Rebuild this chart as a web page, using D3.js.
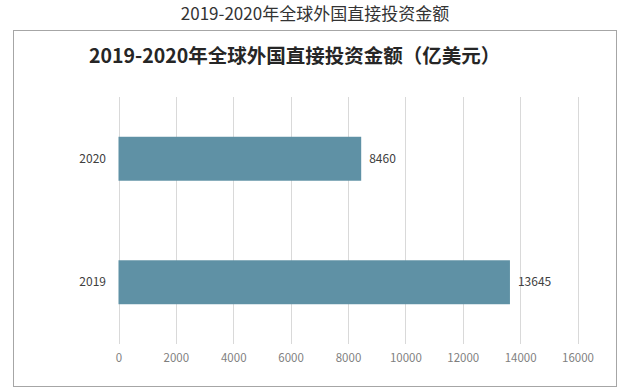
<!DOCTYPE html>
<html>
<head>
<meta charset="utf-8">
<script src="https://cdn.jsdelivr.net/npm/d3@7"></script>
<style>
  body { margin: 0; background: #fff; }
  text { font-family: "Noto Sans CJK SC", "Noto Sans", sans-serif; }
</style>
</head>
<body>
<div></div>
<script>
const width = 620;
const height = 392;

// data
const years = ["2020", "2019"];
const values = [8460, 13645];
const ticks = [0, 2000, 4000, 6000, 8000, 10000, 12000, 14000, 16000];

const pageTitle = "2019-2020年全球外国直接投资金额";
const chartTitle = "2019-2020年全球外国直接投资金额（亿美元）";

const svg = d3
  .select("div")
  .append("svg")
  .attr("width", width)
  .attr("height", height);

// page title above the chart box
svg
  .append("text")
  .attr("x", 315)
  .attr("y", 20)
  .attr("text-anchor", "middle")
  .attr("font-size", 17)
  .attr("fill", "#333")
  .text(pageTitle);

// chart frame
svg
  .append("rect")
  .attr("x", 13.5)
  .attr("y", 30.5)
  .attr("width", 603)
  .attr("height", 356)
  .attr("fill", "#fff")
  .attr("stroke", "#a6a6a6")
  .attr("stroke-width", 1);

svg
  .append("text")
  .attr("x", 89)
  .attr("y", 63)
  .attr("font-size", 19.5)
  .attr("font-weight", "bold")
  .attr("fill", "#262626")
  .text(chartTitle);

const x = d3.scaleLinear().domain([0, 16000]).range([118.5, 577.5]);

const y = d3
  .scaleBand()
  .domain(years)
  .range([97, 344])
  .paddingInner(0.644)
  .paddingOuter(0.322);

// vertical gridlines
svg
  .append("g")
  .selectAll("line")
  .data(ticks)
  .enter()
  .append("line")
  .attr("x1", (d) => Math.round(x(d)) + 0.5)
  .attr("x2", (d) => Math.round(x(d)) + 0.5)
  .attr("y1", 97)
  .attr("y2", 344)
  .attr("stroke", "#d9d9d9");

// x axis labels (no domain line)
const xAxis = d3
  .axisBottom(x)
  .tickValues(ticks)
  .tickSize(0)
  .tickPadding(0)
  .tickFormat((d) => d);

svg
  .append("g")
  .attr("transform", "translate(0,354)")
  .call(xAxis)
  .call((g) => g.select(".domain").remove())
  .call((g) =>
    g
      .selectAll("text")
      .attr("font-family", "'Open Sans', 'Noto Sans', sans-serif")
      .attr("font-size", 11.5)
      .attr("fill", "#7f7f7f")
  );

// y axis labels
const yAxis = d3.axisLeft(y).tickSize(0).tickPadding(12);

svg
  .append("g")
  .attr("transform", "translate(118,0)")
  .call(yAxis)
  .call((g) => g.select(".domain").remove())
  .call((g) =>
    g
      .selectAll("text")
      .attr("font-family", "'Open Sans', 'Noto Sans', sans-serif")
      .attr("font-size", 12)
      .attr("fill", "#404040")
  );

// bars
svg
  .append("g")
  .selectAll("rect")
  .data(values)
  .enter()
  .append("rect")
  .attr("x", x(0))
  .attr("y", (d, i) => y(years[i]))
  .attr("width", (d) => x(d) - x(0))
  .attr("height", y.bandwidth())
  .attr("fill", "#5f91a5");

// value labels
svg
  .append("g")
  .selectAll("text")
  .data(values)
  .enter()
  .append("text")
  .attr("x", (d) => x(d) + 8)
  .attr("y", (d, i) => y(years[i]) + y.bandwidth() / 2)
  .attr("dy", "0.35em")
  .attr("font-family", "'Open Sans', 'Noto Sans', sans-serif")
  .attr("font-size", 12)
  .attr("fill", "#404040")
  .text((d) => d);
</script>
</body>
</html>
